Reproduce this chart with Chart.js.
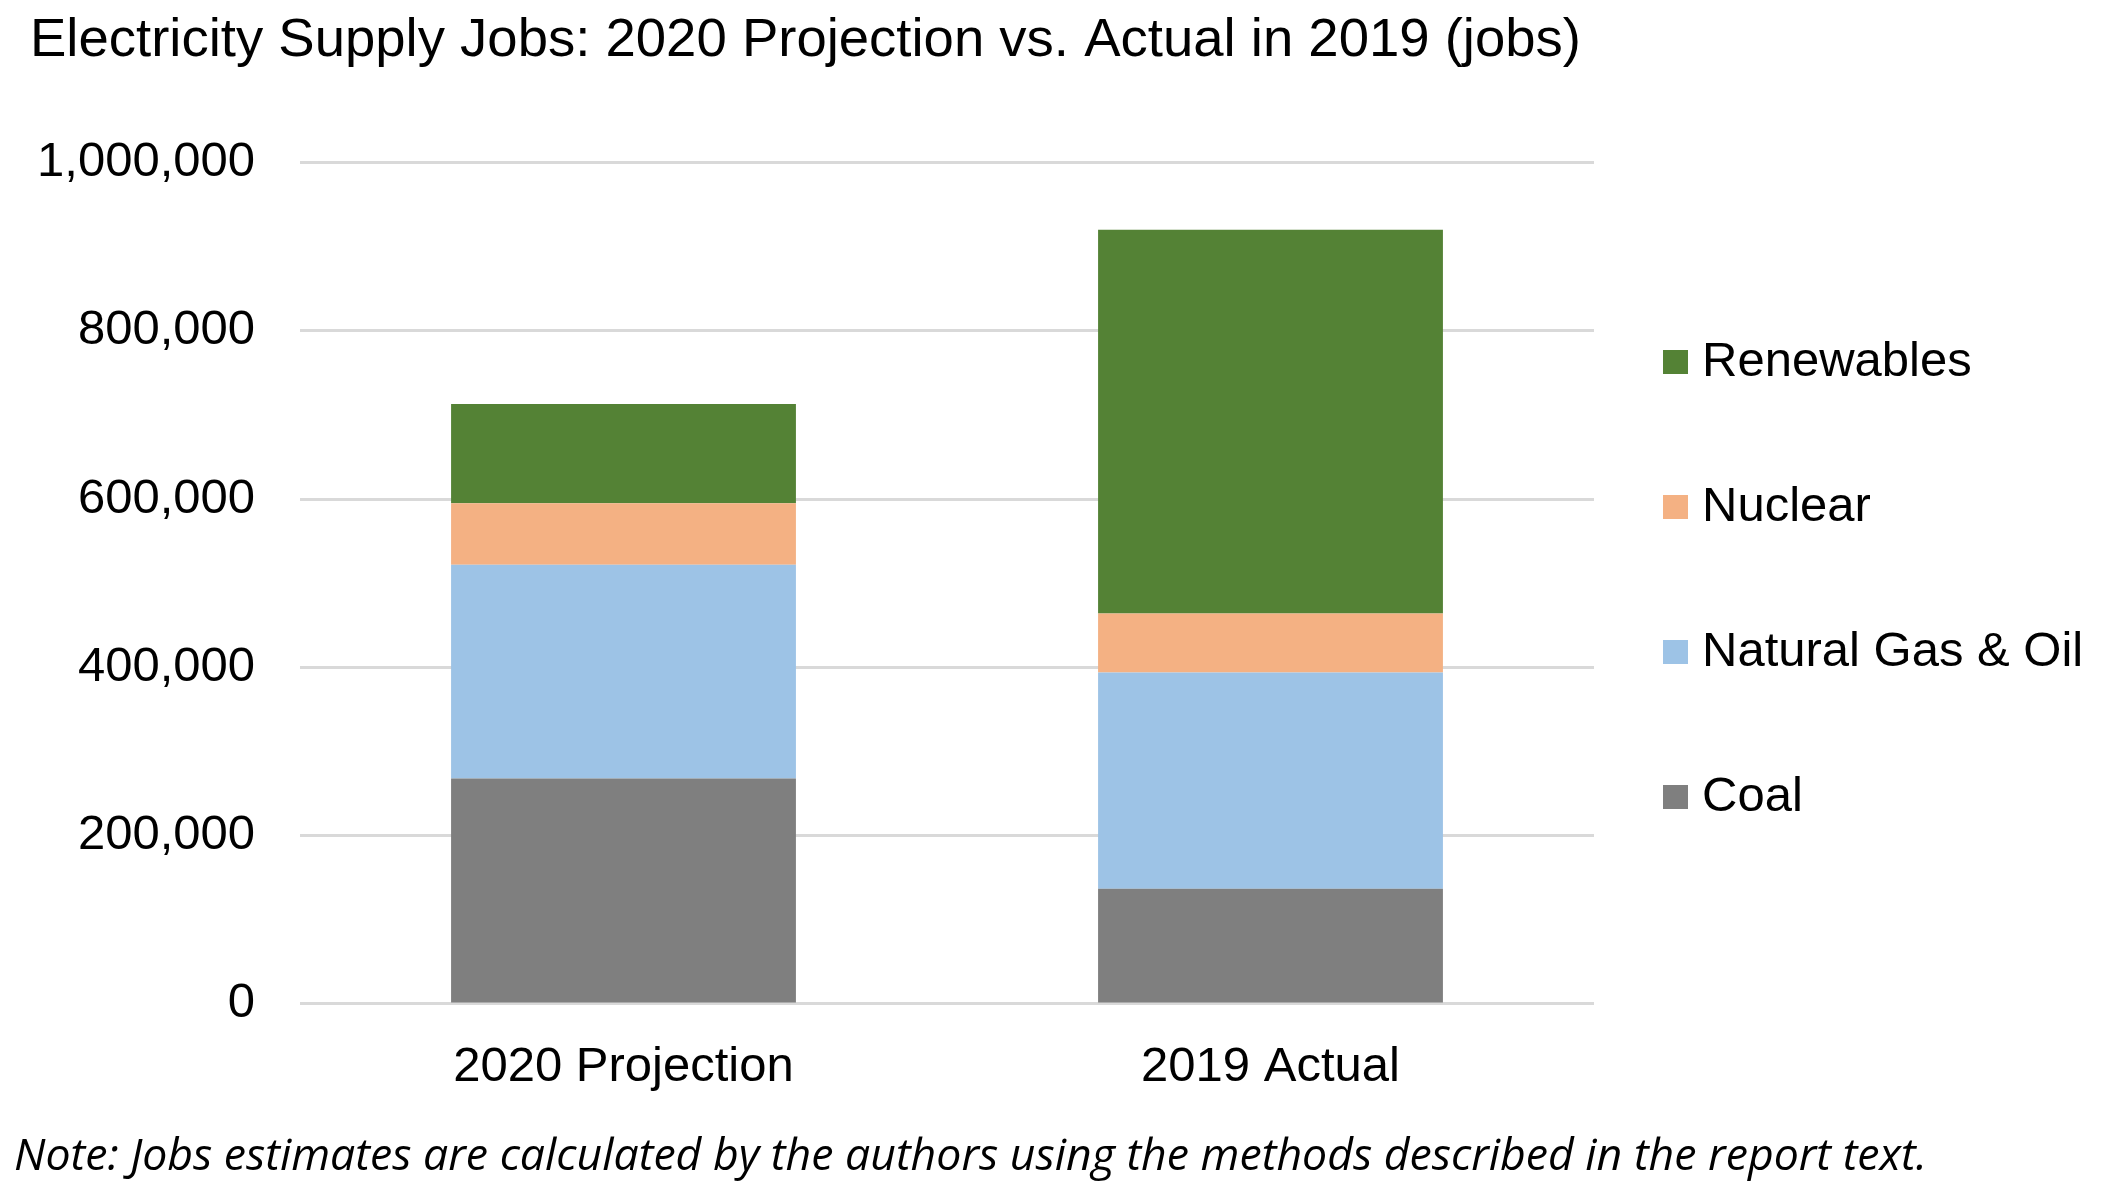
<!DOCTYPE html>
<html>
<head>
<meta charset="utf-8">
<title>Electricity Supply Jobs</title>
<script src="https://cdn.jsdelivr.net/npm/chart.js@4.4.1/dist/chart.umd.min.js"></script>
<style>
  html, body { margin: 0; padding: 0; background: #fff; overflow: hidden; }
  canvas { display: block; }
</style>
</head>
<body>
<canvas id="jobs-chart" width="2106" height="1191"></canvas>
<script>
// Values (jobs)
const categories = ['2020 Projection', '2019 Actual'];
const coal = [268000, 137000];
const gasOil = [254000, 257000];
const nuclear = [73000, 70000];
const renewables = [118000, 456000];
const yTicks = [0, 200000, 400000, 600000, 800000, 1000000];

const ARIAL = '"Liberation Sans", Arial, sans-serif';
const LABEL_FONT = { family: ARIAL, size: 49 };
const NOTE_TEXT = 'Note: Jobs estimates are calculated by the authors using the methods described in the report text.';

Chart.defaults.font.family = ARIAL;
Chart.defaults.color = '#000';

// legend on the right, drawn by hand so spacing matches the original
const sideLegend = {
  id: 'sideLegend',
  afterLayout(chart) {
    chart.boxes.forEach(box => {
      if (!box.options || box.options.text === undefined) return;
      // let title and note run the full canvas width (no squeezing)
      box.right = chart.width;
      box.width = box.right - box.left;
      if (box === chart.titleBlock) {
        // title sits a little right of the footnote
        box.left += 16;
      }
    });
  },
  afterDraw(chart) {
    const ctx = chart.ctx;
    const items = chart.data.datasets.slice().reverse();
    ctx.save();
    ctx.font = `${LABEL_FONT.size}px ${ARIAL}`;
    ctx.textBaseline = 'middle';
    ctx.textAlign = 'left';
    items.forEach((ds, i) => {
      const y = 362 + i * 145;
      ctx.fillStyle = ds.backgroundColor;
      ctx.fillRect(1663, y - 12, 25, 24);
      ctx.fillStyle = '#000';
      ctx.fillText(ds.label, 1702, y);
    });
    ctx.restore();
  }
};

new Chart(document.getElementById('jobs-chart'), {
  type: 'bar',
  data: {
    labels: categories,
    datasets: [
      { label: 'Coal', data: coal, backgroundColor: '#7f7f7f' },
      { label: 'Natural Gas & Oil', data: gasOil, backgroundColor: '#9dc3e6' },
      { label: 'Nuclear', data: nuclear, backgroundColor: '#f4b183' },
      { label: 'Renewables', data: renewables, backgroundColor: '#548235' }
    ]
  },
  options: {
    responsive: false,
    devicePixelRatio: 1,
    animation: false,
    layout: { padding: { left: 14, right: 512, top: 0, bottom: 0 } },
    datasets: {
      bar: { barPercentage: 1, categoryPercentage: 0.533, borderWidth: 0 }
    },
    plugins: {
      legend: { display: false },
      tooltip: { enabled: false },
      title: {
        display: true,
        text: 'Electricity Supply Jobs: 2020 Projection vs. Actual in 2019 (jobs)',
        align: 'start',
        color: '#000',
        font: { family: ARIAL, size: 54.5, weight: 'normal' },
        padding: { top: 8, bottom: 89 }
      },
      subtitle: {
        display: true,
        position: 'bottom',
        align: 'start',
        text: NOTE_TEXT,
        color: '#000',
        font: { family: '"Open Sans", "Noto Sans", sans-serif', size: 44.6, style: 'italic', weight: 'normal' },
        padding: { top: 7.5, bottom: 7.2 }
      }
    },
    scales: {
      x: {
        stacked: true,
        grid: { display: false },
        border: { display: false },
        ticks: { font: LABEL_FONT, color: '#000', padding: 26, maxRotation: 0 }
      },
      y: {
        stacked: true,
        min: 0,
        max: 1000000,
        afterBuildTicks(scale) {
          scale.ticks = yTicks.map(v => ({ value: v }));
        },
        afterFit(scale) {
          scale.width = 286;
        },
        border: { display: false },
        grid: { color: '#d9d9d9', lineWidth: 3, drawTicks: false },
        ticks: {
          font: LABEL_FONT,
          color: '#000',
          padding: 45,
          callback: v => Number(v).toLocaleString('en-US')
        }
      }
    }
  },
  plugins: [sideLegend]
});
</script>
</body>
</html>
